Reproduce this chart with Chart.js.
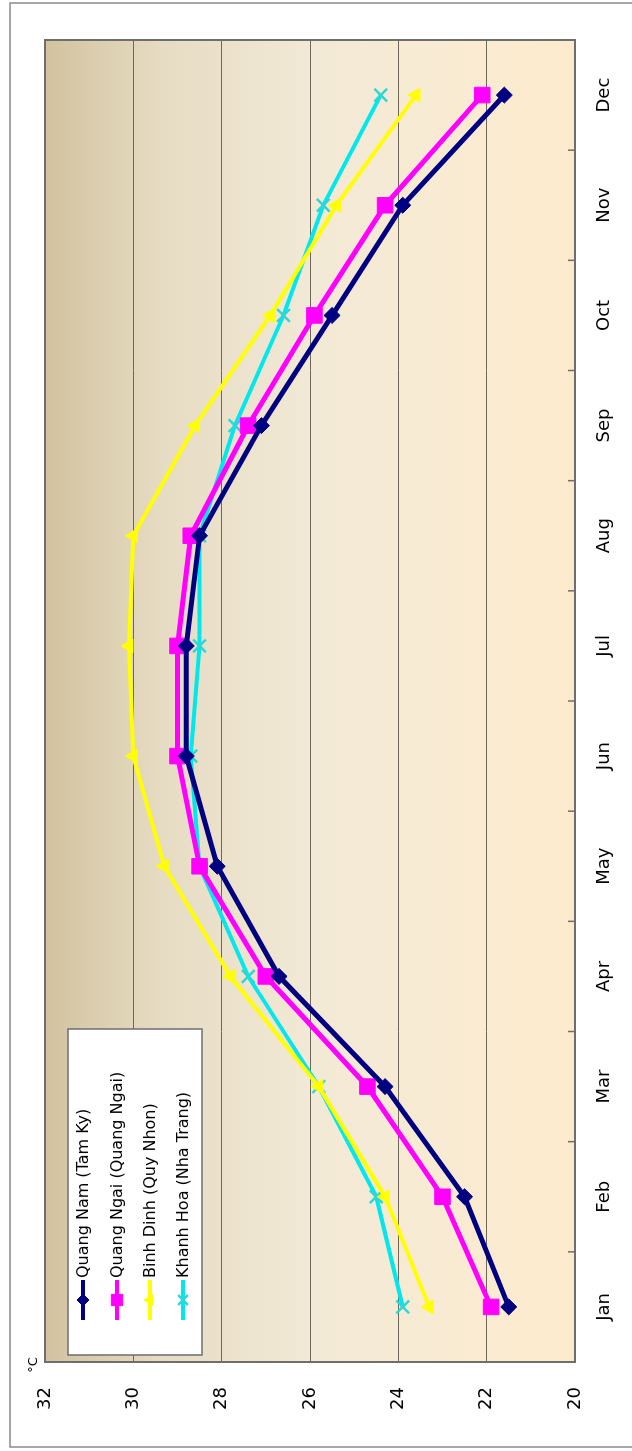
<!DOCTYPE html>
<html><head><meta charset="utf-8">
<script src="https://cdn.jsdelivr.net/npm/chart.js@4.4.0/dist/chart.umd.min.js"></script>
<style>
html,body{margin:0;padding:0;background:#fff;overflow:hidden;width:632px;height:1451px;}
#wrap{position:absolute;left:0;top:0;width:1451px;height:632px;transform-origin:0 0;transform:translate(0,1451px) rotate(-90deg);}
canvas{display:block;}
</style></head><body>
<div id="wrap"><canvas id="c" width="1451" height="632"></canvas></div>
<script>
const months = ['Jan','Feb','Mar','Apr','May','Jun','Jul','Aug','Sep','Oct','Nov','Dec'];
const quangNam   = [21.5, 22.5, 24.3, 26.7, 28.1, 28.8, 28.8, 28.5, 27.1, 25.5, 23.9, 21.6];
const quangNgai  = [21.9, 23.0, 24.7, 27.0, 28.5, 29.0, 29.0, 28.7, 27.4, 25.9, 24.3, 22.1];
const binhDinh   = [23.3, 24.3, 25.8, 27.8, 29.3, 30.0, 30.1, 30.0, 28.6, 26.9, 25.4, 23.6];
const khanhHoa   = [23.9, 24.5, 25.8, 27.4, 28.5, 28.7, 28.5, 28.5, 27.7, 26.6, 25.7, 24.4];
const seriesNames = ['Quang Nam (Tam Ky)','Quang Ngai (Quang Ngai)','Binh Dinh (Quy Nhon)','Khanh Hoa (Nha Trang)'];
const yMin = 20, yMax = 32, yStep = 2;
const unitLabel = '°C';

const FONT = "'DejaVu Sans', Verdana, sans-serif";

const bgPlugin = {
  id: 'bg',
  beforeDraw(chart) {
    const {ctx, chartArea: a, width, height} = chart;
    ctx.save();
    ctx.fillStyle = '#fff';
    ctx.fillRect(0, 0, width, height);
    ctx.strokeStyle = '#8a8a8a';
    ctx.lineWidth = 1.5;
    ctx.strokeRect(4, 10, 1444, 640);
    const g = ctx.createLinearGradient(0, a.top, 0, a.bottom);
    g.addColorStop(0, '#d2c29f');
    g.addColorStop(0.22, '#e6dcc3');
    g.addColorStop(0.5, '#f2e9d6');
    g.addColorStop(0.78, '#f9ebd2');
    g.addColorStop(1, '#fdeacc');
    ctx.fillStyle = g;
    ctx.fillRect(a.left, a.top, a.right - a.left, a.bottom - a.top);
    ctx.restore();
  },
  afterDatasetsDraw(chart) {
    const {ctx, chartArea: a} = chart;
    const xs = chart.scales.x;
    ctx.save();
    ctx.strokeStyle = '#6e6e6e';
    ctx.lineWidth = 2;
    ctx.strokeRect(a.left, a.top, a.right - a.left, a.bottom - a.top);
    ctx.lineWidth = 1.5;
    ctx.beginPath();
    for (let i = 0; i < months.length - 1; i++) {
      const px = (xs.getPixelForValue(i) + xs.getPixelForValue(i + 1)) / 2;
      ctx.moveTo(px, a.bottom);
      ctx.lineTo(px, a.bottom - 7);
    }
    ctx.stroke();
    // unit label
    ctx.fillStyle = '#000';
    ctx.font = '13px ' + FONT;
    ctx.textAlign = 'center';
    ctx.textBaseline = 'middle';
    ctx.fillText(unitLabel, 86, 34);
    // legend box
    const bx = 96, by = 68, bw = 326, bh = 134;
    ctx.fillStyle = '#fff';
    ctx.fillRect(bx, by, bw, bh);
    ctx.strokeStyle = '#6e6e6e';
    ctx.lineWidth = 1.5;
    ctx.strokeRect(bx, by, bw, bh);
    const rows = [83, 117, 150, 183];
    chart.data.datasets.forEach((ds, i) => {
      const y = rows[i];
      ctx.strokeStyle = ds.borderColor;
      ctx.lineWidth = 4;
      ctx.beginPath();
      ctx.moveTo(131, y);
      ctx.lineTo(171, y);
      ctx.stroke();
      ctx.fillStyle = ds.pointBackgroundColor;
      ctx.strokeStyle = ds.pointBorderColor;
      ctx.lineWidth = ds.pointBorderWidth;
      if (Chart.helpers && Chart.helpers.drawPoint) {
        Chart.helpers.drawPoint(ctx, {pointStyle: ds.pointStyle, radius: ds.legendRadius, rotation: 0, borderWidth: ds.pointBorderWidth}, 151, y);
      }
      ctx.fillStyle = '#000';
      ctx.font = '16px ' + FONT;
      ctx.textAlign = 'left';
      ctx.textBaseline = 'middle';
      ctx.fillText(ds.label, 173, y + 1);
    });
    ctx.restore();
  }
};

new Chart(document.getElementById('c'), {
  type: 'line',
  data: {
    labels: months,
    datasets: [
      {label: seriesNames[0], data: quangNam, borderColor: '#000080', pointBackgroundColor: '#000080', pointBorderColor: '#000080', borderWidth: 5, pointStyle: 'rectRot', pointRadius: 8, pointBorderWidth: 1, legendRadius: 6},
      {label: seriesNames[1], data: quangNgai, borderColor: '#ff00ff', pointBackgroundColor: '#ff00ff', pointBorderColor: '#ff00ff', borderWidth: 5, pointStyle: 'rect', pointRadius: 11, pointBorderWidth: 1, legendRadius: 8},
      {label: seriesNames[2], data: binhDinh, borderColor: '#ffff00', pointBackgroundColor: '#ffff00', pointBorderColor: '#ffff00', borderWidth: 4, pointStyle: 'triangle', pointRadius: 8, pointBorderWidth: 1, legendRadius: 6},
      {label: seriesNames[3], data: khanhHoa, borderColor: '#00e8ee', pointBackgroundColor: '#00e8ee', pointBorderColor: '#2fd6d6', borderWidth: 4, pointStyle: 'crossRot', pointRadius: 9, pointBorderWidth: 2.5, legendRadius: 7}
    ]
  },
  options: {
    responsive: false,
    animation: false,
    devicePixelRatio: 1,
    layout: {padding: {top: 45, right: 40, left: 0, bottom: 0}},
    elements: {line: {tension: 0}},
    plugins: {legend: {display: false}, tooltip: {enabled: false}},
    scales: {
      x: {
        type: 'category', offset: true,
        grid: {display: false, drawTicks: false},
        border: {display: false},
        ticks: {padding: 19, color: '#000', font: {family: FONT, size: 18}, maxRotation: 0, autoSkip: false},
        afterFit(s) { s.height = 57; }
      },
      y: {
        min: yMin, max: yMax,
        ticks: {stepSize: yStep, padding: 25, color: '#000', font: {family: FONT, size: 18}},
        grid: {color: '#6d685a', lineWidth: 1, drawTicks: false},
        border: {display: false},
        afterFit(s) { s.width = 89; }
      }
    }
  },
  plugins: [bgPlugin]
});
</script>
</body></html>
